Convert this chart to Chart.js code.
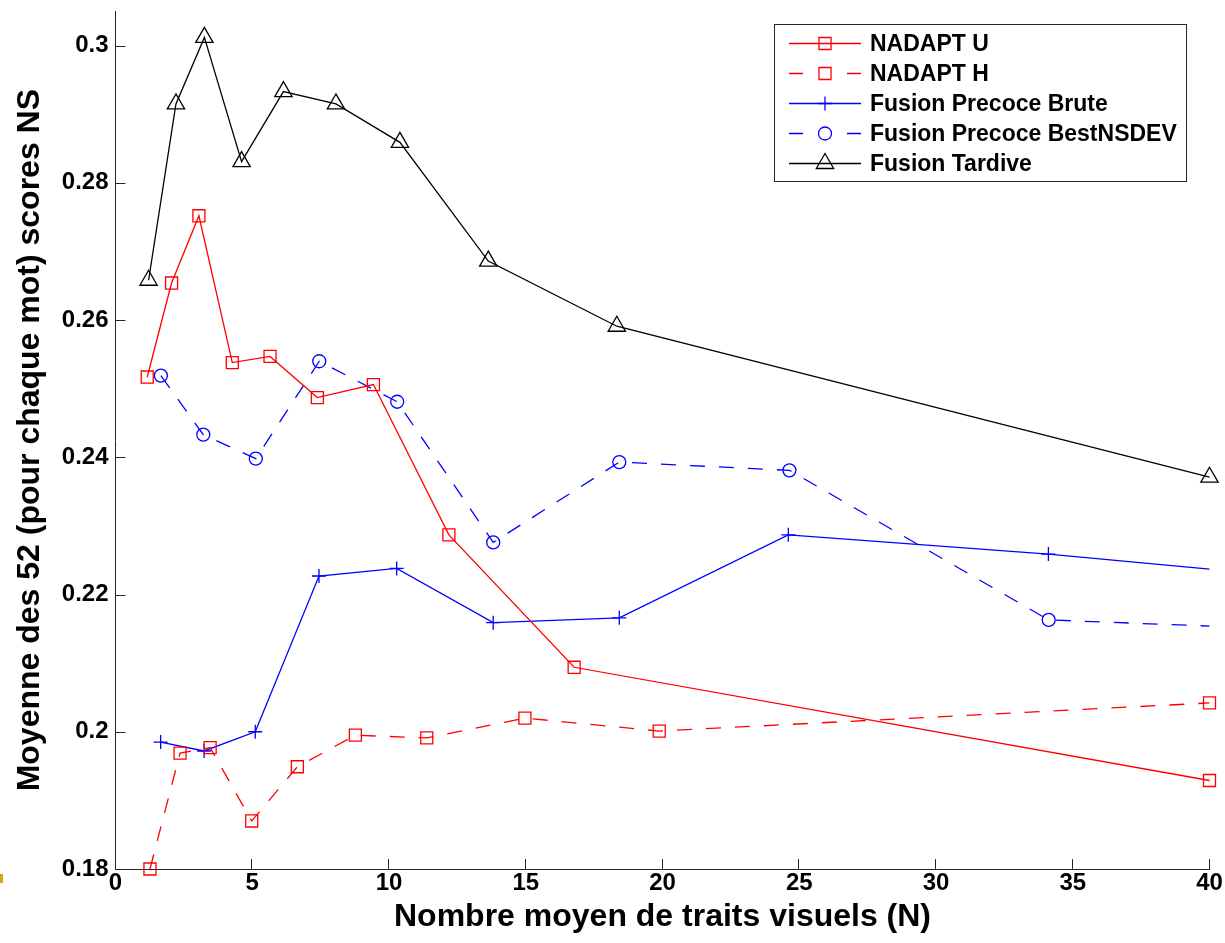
<!DOCTYPE html>
<html>
<head>
<meta charset="utf-8">
<script src="https://cdn.jsdelivr.net/npm/chart.js@4/dist/chart.umd.min.js"></script>
<style>
  html, body { margin: 0; padding: 0; background: #fff; overflow: hidden; }
  #wrap { position: relative; width: 1225px; height: 943px; }
  #c { display: block; }
  .corner { position: absolute; left: 0; top: 874px; width: 3px; height: 9px; background: #d9a21b; }
</style>
</head>
<body>
<div id="wrap">
  <canvas id="c" width="1225" height="943"></canvas>
  <div class="corner"></div>
</div>
<script>
// Series names
const seriesNames = [
  'NADAPT U',
  'NADAPT H',
  'Fusion Precoce Brute',
  'Fusion Precoce BestNSDEV',
  'Fusion Tardive'
];

// NADAPT U
const nadaptUX = [1.16, 2.05, 3.05, 4.27, 5.65, 7.38, 9.43, 12.19, 16.77, 40];
const nadaptUY = [0.2517, 0.2654, 0.2752, 0.2538, 0.2547, 0.2487, 0.2506, 0.2287, 0.2094, 0.1929];

// NADAPT H
const nadaptHX = [1.26, 2.36, 3.46, 4.98, 6.65, 8.77, 11.38, 14.97, 19.88, 40];
const nadaptHY = [0.1800, 0.1969, 0.1977, 0.1870, 0.1949, 0.1995, 0.1991, 0.2020, 0.2001, 0.2042];

// Fusion Precoce Brute (last point has no marker)
const bruteX = [1.65, 3.24, 5.11, 7.44, 10.28, 13.81, 18.42, 24.60, 34.11, 40];
const bruteY = [0.1985, 0.1972, 0.2000, 0.2227, 0.2238, 0.2159, 0.2166, 0.2287, 0.2259, 0.2237];

// Fusion Precoce BestNSDEV (last point has no marker)
const bestX = [1.66, 3.21, 5.13, 7.45, 10.30, 13.81, 18.42, 24.64, 34.12, 40];
const bestY = [0.2519, 0.2433, 0.2398, 0.2540, 0.2481, 0.2276, 0.2393, 0.2381, 0.2163, 0.2154];

// Fusion Tardive
const tardiveX = [1.21, 2.21, 3.25, 4.61, 6.14, 8.06, 10.40, 13.63, 18.33, 40];
const tardiveY = [0.2658, 0.2915, 0.3012, 0.2831, 0.2933, 0.2915, 0.2859, 0.2686, 0.2591, 0.2371];

// Tick labels
const xTicks = [0, 5, 10, 15, 20, 25, 30, 35, 40];
const yTicks = [0.18, 0.20, 0.22, 0.24, 0.26, 0.28, 0.30];

const FONT = '"Liberation Sans", Arial, Helvetica, sans-serif';
const DASH = [15, 14];

function pts(xs, ys) {
  return xs.map((x, i) => ({ x: x, y: ys[i] }));
}

function lastHidden(r) {
  return ctx => (ctx.dataIndex === ctx.dataset.data.length - 1 ? 0 : r);
}

function series(label, data, color, style, radius, dash, hideLast) {
  return {
    label: label,
    data: data,
    showLine: true,
    borderColor: color,
    borderWidth: 1.3,
    borderDash: dash,
    tension: 0,
    fill: false,
    clip: false,
    pointStyle: style,
    pointRadius: hideLast ? lastHidden(radius) : radius,
    pointHoverRadius: hideLast ? lastHidden(radius) : radius,
    legendRadius: radius,
    pointBorderColor: color,
    pointBackgroundColor: 'rgba(0,0,0,0)',
    pointBorderWidth: 1.3
  };
}

const datasets = [
  series(seriesNames[0], pts(nadaptUX, nadaptUY), '#ff0000', 'rect', 8.5, [], false),
  series(seriesNames[1], pts(nadaptHX, nadaptHY), '#ff0000', 'rect', 8.5, DASH, false),
  series(seriesNames[2], pts(bruteX, bruteY), '#0000ff', 'cross', 7, [], true),
  series(seriesNames[3], pts(bestX, bestY), '#0000ff', 'circle', 6.5, DASH, true),
  series(seriesNames[4], pts(tardiveX, tardiveY), '#000000', 'triangle', 10, [], false)
];

// Short tick marks pointing into the plot area
const innerTicks = {
  id: 'innerTicks',
  afterDraw(chart) {
    const { ctx, chartArea: a, scales } = chart;
    ctx.save();
    ctx.strokeStyle = '#262626';
    ctx.lineWidth = 1;
    ctx.beginPath();
    yTicks.forEach(v => {
      const y = Math.round(scales.y.getPixelForValue(v)) + 0.5;
      ctx.moveTo(a.left, y);
      ctx.lineTo(a.left + 10, y);
    });
    xTicks.forEach(v => {
      const x = Math.round(scales.x.getPixelForValue(v)) - 0.5;
      ctx.moveTo(x, a.bottom);
      ctx.lineTo(x, a.bottom - 10);
    });
    ctx.stroke();
    ctx.restore();
  }
};

// Boxed legend with line sample and marker for each series
const boxLegend = {
  id: 'boxLegend',
  afterDraw(chart) {
    const ctx = chart.ctx;
    const bx = 774.5, by = 24.5, bw = 412, bh = 157;
    ctx.save();
    ctx.fillStyle = '#ffffff';
    ctx.fillRect(bx, by, bw, bh);
    ctx.strokeStyle = '#262626';
    ctx.lineWidth = 1;
    ctx.strokeRect(bx, by, bw, bh);

    chart.data.datasets.forEach((ds, i) => {
      const y = 43.5 + i * 30;
      ctx.strokeStyle = ds.borderColor;
      ctx.lineWidth = ds.borderWidth;
      ctx.setLineDash([]);
      ctx.beginPath();
      if (ds.borderDash && ds.borderDash.length) {
        ctx.moveTo(789, y); ctx.lineTo(803, y);
        ctx.moveTo(847, y); ctx.lineTo(861, y);
      } else {
        ctx.moveTo(789, y); ctx.lineTo(861, y);
      }
      ctx.stroke();

      ctx.fillStyle = 'rgba(0,0,0,0)';
      ctx.strokeStyle = ds.pointBorderColor;
      ctx.lineWidth = ds.pointBorderWidth;
      Chart.helpers.drawPoint(ctx, {
        pointStyle: ds.pointStyle,
        rotation: 0,
        radius: ds.legendRadius,
        borderWidth: ds.pointBorderWidth
      }, 825, y);

      ctx.fillStyle = '#000000';
      ctx.font = 'bold 23px ' + FONT;
      ctx.textAlign = 'left';
      ctx.textBaseline = 'middle';
      ctx.fillText(ds.label, 870, y + 1);
    });
    ctx.restore();
  }
};

new Chart(document.getElementById('c'), {
  type: 'scatter',
  data: { datasets: datasets },
  options: {
    responsive: false,
    animation: false,
    devicePixelRatio: 1,
    events: [],
    layout: { padding: { top: 7, right: 15.5, bottom: 0, left: 0 } },
    plugins: {
      legend: { display: false },
      tooltip: { enabled: false }
    },
    scales: {
      x: {
        type: 'linear',
        min: 0,
        max: 40,
        afterBuildTicks: s => { s.ticks = xTicks.map(v => ({ value: v })); },
        afterFit: s => { s.height = 74; s.paddingLeft = 0; s.paddingRight = 0; },
        grid: { display: false, drawTicks: false },
        border: { display: true, color: '#262626', width: 1 },
        ticks: {
          color: '#000',
          font: { family: FONT, size: 24, weight: 'bold' },
          padding: 0,
          maxRotation: 0,
          callback: v => String(v)
        },
        title: {
          display: true,
          text: 'Nombre moyen de traits visuels (N)',
          color: '#000',
          font: { family: FONT, size: 32, weight: 'bold' },
          padding: { top: 0, bottom: 7 }
        }
      },
      y: {
        type: 'linear',
        min: 0.18,
        max: 0.305,
        afterBuildTicks: s => { s.ticks = yTicks.map(v => ({ value: v })); },
        afterFit: s => { s.width = 115.5; s.paddingTop = 0; s.paddingBottom = 0; },
        grid: { display: false, drawTicks: false },
        border: { display: true, color: '#262626', width: 1 },
        ticks: {
          color: '#000',
          font: { family: FONT, size: 24, weight: 'bold' },
          padding: 7,
          callback: v => String(Number(v.toFixed(2)))
        },
        title: {
          display: true,
          text: 'Moyenne des 52 (pour chaque mot) scores NS',
          color: '#000',
          font: { family: FONT, size: 32, weight: 'bold' },
          padding: { top: 11, bottom: 0 }
        }
      }
    }
  },
  plugins: [innerTicks, boxLegend]
});
</script>
</body>
</html>
